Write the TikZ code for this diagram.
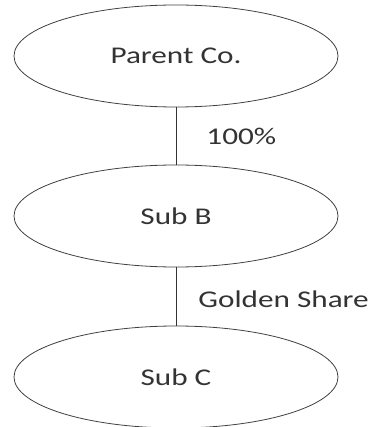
\documentclass[tikz,border=0pt]{standalone}
\usepackage{fontspec}
\setmainfont{Carlito}[FakeStretch=1.3]
\usepackage{tikz}
\usetikzlibrary{shapes.geometric,positioning}

\begin{document}
\begin{tikzpicture}[
    x=1pt, y=1pt,
    entity/.style={ellipse, draw=black!75, line width=0.8pt, inner sep=0pt,
                   minimum width=324pt, minimum height=102pt,
                   font=\fontsize{24}{26}\selectfont, text=black!80},
    link/.style={draw=black!80, line width=0.9pt},
    lbl/.style={font=\fontsize{24}{26}\selectfont, text=black!80, inner sep=0pt}
  ]
    \useasboundingbox (0,0) rectangle (369,-427);

    %--- Companies ---
    \node[entity] (par)  at (176, -56)  {Parent Co.};
    \node[entity] (subb) at (176, -216) {Sub B};
    \node[entity] (subc) at (176, -377) {Sub C};

    %--- Ownership links ---
    \draw[link] (par) -- node[lbl, right=30pt]{100\%} (subb);
    \draw[link] (subb) -- node[lbl, right=22pt, yshift=-3pt]{Golden Share} (subc);
\end{tikzpicture}
\end{document}
